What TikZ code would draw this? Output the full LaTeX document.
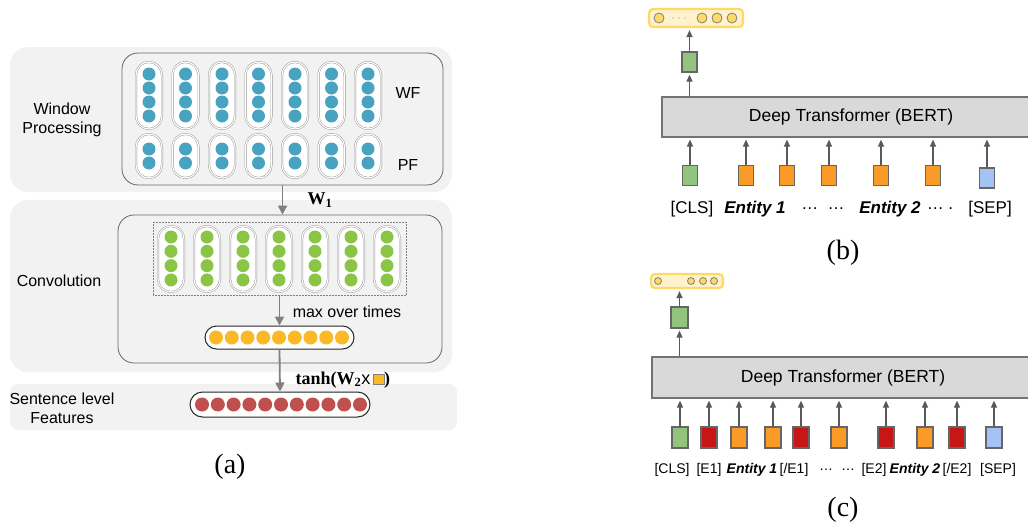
\documentclass[tikz,border=0pt]{standalone}
\usepackage{fontspec}
\setmainfont{Liberation Sans}
\newfontfamily\serifface{Liberation Serif}
\usetikzlibrary{arrows.meta,positioning}

\definecolor{panelgray}{RGB}{242,242,242}
\definecolor{wfblue}{RGB}{72,163,192}
\definecolor{convgreen}{RGB}{139,197,70}
\definecolor{poolyellow}{RGB}{251,185,40}
\definecolor{featred}{RGB}{192,80,77}
\definecolor{clsgreen}{RGB}{147,196,125}
\definecolor{tokorange}{RGB}{250,155,40}
\definecolor{markred}{RGB}{200,22,22}
\definecolor{sepblue}{RGB}{164,194,244}
\definecolor{bertgray}{RGB}{217,217,217}
\definecolor{vecfill}{RGB}{255,242,204}
\definecolor{vecline}{RGB}{255,217,102}
\definecolor{arrowgray}{RGB}{89,89,89}

\begin{document}
\begin{tikzpicture}
	[x=1pt,y=-1pt,
	every node/.style={font=\fontsize{16}{19}\selectfont},
	panel/.style={fill=panelgray,rounded corners=18pt},
	innerbox/.style={draw=black!60,line width=0.8pt,rounded corners=16pt},
	pill/.style={draw=black!45,double=white,double distance=1.2pt,fill=white,rounded corners=13pt,minimum width=26pt,inner sep=0pt},
	longpill/.style={draw=black!85,line width=1pt,fill=white,inner sep=0pt},
	dot/.style={circle,inner sep=0pt,minimum size=13pt},
	bigdot/.style={circle,inner sep=0pt,minimum size=14pt},
	garrow/.style={draw=black!50,line width=1.8pt,-{Triangle[length=9pt,width=9pt]}},
	tok/.style={draw=black!60,line width=1.3pt,minimum width=15pt,minimum height=20pt,inner sep=0pt},
	bert/.style={draw=black!55,line width=1.2pt,fill=bertgray,inner sep=0pt,font=\fontsize{17.5}{20}\selectfont},
	vecpill/.style={draw=vecline,line width=2.2pt,fill=vecfill,rounded corners=4pt,inner sep=0pt},
	vecdot/.style={circle,draw=black!50,line width=0.8pt,fill=vecline,inner sep=0pt},
	barrow/.style={draw=arrowgray,line width=1.2pt,-{Triangle[length=7pt,width=6pt]},shorten >=2pt},
	caption/.style={font=\serifface\fontsize{28}{30}\selectfont}]
	\useasboundingbox (0,0) rectangle (1028,522);

	% (a) window processing
	\fill[panel] (10,47) rectangle (452,192);
	\node[innerbox,minimum width=321pt,minimum height=132pt] (wpbox) at (282.5,119) {};
	\foreach \i in {0,...,6} {
		\node[pill,minimum height=67pt] (wf\i) at (149+36.5*\i,95.5) {};
		\foreach \j in {0,...,3}
			\node[dot,fill=wfblue] at (149+36.5*\i,74+14*\j) {};
		\node[pill,minimum height=44pt] (pf\i) at (149+36.5*\i,156) {};
		\foreach \j in {0,1}
			\node[dot,fill=wfblue] at (149+36.5*\i,149+14*\j) {};
	}
	\node (wflabel) at (408,93) {WF};
	\node (pflabel) at (408,165) {PF};
	\node[align=center] (wplabel) at (62,120) {Window\\Processing};

	% (a) convolution
	\fill[panel] (10,200) rectangle (452,372);
	\node[innerbox,minimum width=324pt,minimum height=148pt] (convbox) at (280,289) {};
	\node[draw=black!50,densely dotted,line width=0.5pt,minimum width=253pt,minimum height=73pt,inner sep=0pt] (filters) at (279.5,258.5) {};
	\foreach \i in {0,...,6} {
		\node[pill,minimum height=66pt] (cv\i) at (171+36*\i,259) {};
		\foreach \j in {0,...,3}
			\node[dot,fill=convgreen] at (171+36*\i,237+14.33*\j) {};
	}
	\node[longpill,minimum width=149pt,minimum height=23pt,rounded corners=11.5pt] (maxpool) at (279.5,337.5) {};
	\foreach \k in {0,...,8}
		\node[bigdot,fill=poolyellow] at (216+15.75*\k,337.5) {};
	\node (convlabel) at (59,281) {Convolution};
	\node (maxlabel) at (347,312) {max over times};

	% (a) sentence level features
	\fill[panel,rounded corners=8pt] (10,384) rectangle (457,430);
	\node[longpill,minimum width=180pt,minimum height=25pt,rounded corners=12.5pt] (sentfeat) at (280,404.5) {};
	\foreach \k in {0,...,10}
		\node[bigdot,fill=featred] at (202+15.8*\k,404.5) {};
	\node[align=center] (sentlabel) at (62,408) {Sentence level\\Features};

	\draw[garrow] (wpbox.south) -- (wpbox.south |- convbox.north);
	\draw[garrow] (filters.south) -- (maxpool.north);
	\draw[garrow] (maxpool.south) -- (sentfeat.north);
	\node[anchor=west,font=\serifface\bfseries\fontsize{18}{20}\selectfont] (wone) at (304,200) {W\textsubscript{1}};
	\node[anchor=west,font=\serifface\bfseries\fontsize{18}{20}\selectfont] (tanhlabel) at (292,380)
		{tanh(W\textsubscript{2}{\mdseries\fontspec{Liberation Sans}x}\,{\setlength\fboxsep{0pt}\fcolorbox{black!50}{poolyellow}{\rule{0pt}{10pt}\hspace{10pt}}})};
	\node[caption] (capa) at (230,467) {(a)};

	% (b) BERT, plain input
	\node[vecpill,minimum width=94pt,minimum height=18pt] (bvec) at (696,18) {};
	\foreach \x in {659,702,717,732}
		\node[vecdot,minimum size=10pt] at (\x,18) {};
	\foreach \x in {673,679,685}
		\fill[black!45] (\x,18) circle (0.7);
	\node[tok,fill=clsgreen] (bout) at (689.5,62) {};
	\node[bert,minimum width=378pt,minimum height=40pt] (bertb) at (851,117) {Deep Transformer (BERT)};
	\foreach \x/\y/\c [count=\n] in {690/175.5/clsgreen,746/175.5/tokorange,787/175.5/tokorange,829/175.5/tokorange,881/175.5/tokorange,933/175.5/tokorange,987/178/sepblue} {
		\node[tok,fill=\c] (bin\n) at (\x,\y) {};
		\draw[barrow] (bin\n.north) -- (bin\n.north |- bertb.south);
	}
	\draw[barrow] (bout.north |- bertb.north) -- (bout.south);
	\draw[barrow] (bout.north) -- (bout.north |- bvec.south);
	\node (bl1) at (692,209) {\fontsize{17}{20}\selectfont [CLS]};
	\node (bl2) at (755,209) {\fontsize{17}{20}\selectfont\bfseries\itshape Entity 1};
	\node (bl3) at (823,209) {\fontsize{17}{20}\selectfont \ldots\ \ \ldots};
	\node (bl4) at (890,209) {\fontsize{17}{20}\selectfont\bfseries\itshape Entity 2};
	\node (bl5) at (940,209) {\fontsize{17}{20}\selectfont \ldots\ .};
	\node (bl6) at (990,209) {\fontsize{17}{20}\selectfont [SEP]};
	\node[caption] (capb) at (843,253) {(b)};

	% (c) BERT, entity markers
	\node[vecpill,minimum width=72pt,minimum height=14pt] (cvec) at (687,281) {};
	\foreach \x in {658,691,703,714}
		\node[vecdot,minimum size=7pt] at (\x,281) {};
	\node[tok,fill=clsgreen,minimum width=17pt,minimum height=21pt] (cout) at (679.5,317.5) {};
	\node[bert,minimum width=382pt,minimum height=41pt] (bertc) at (843,377.5) {Deep Transformer (BERT)};
	\foreach \x/\c [count=\n] in {680/clsgreen,709/markred,739/tokorange,773/tokorange,801/markred,839/tokorange,886/markred,925/tokorange,957/markred,994/sepblue} {
		\node[tok,fill=\c,minimum width=16pt,minimum height=21pt] (cin\n) at (\x,437.5) {};
		\draw[barrow] (cin\n.north) -- (cin\n.north |- bertc.south);
	}
	\draw[barrow] (cout.north |- bertc.north) -- (cout.south);
	\draw[barrow] (cout.north) -- (cout.north |- cvec.south);
	\foreach \x/\t in {672/{[CLS]},709/{[E1]},794/{[/E1]},826/{\ldots},848/{\ldots},874/{[E2]},957/{[/E2]},998/{[SEP]}}
		\node at (\x,470) {\fontsize{14}{16}\selectfont \t};
	\node (cl1) at (752,470) {\fontsize{14}{16}\selectfont\bfseries\itshape Entity 1};
	\node (cl2) at (915,470) {\fontsize{14}{16}\selectfont\bfseries\itshape Entity 2};
	\node[caption] (capc) at (843,510) {(c)};
\end{tikzpicture}
\end{document}
